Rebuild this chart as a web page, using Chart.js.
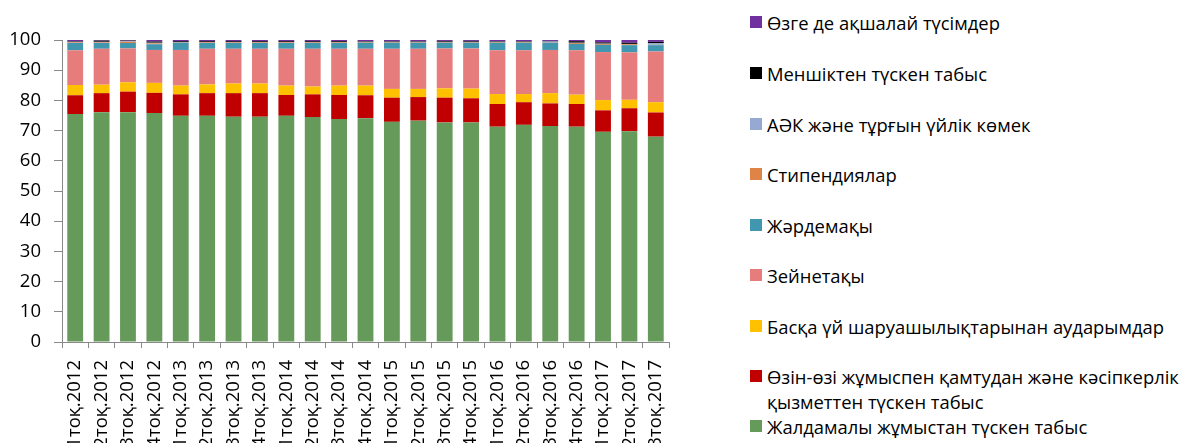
<!DOCTYPE html>
<html>
<head>
<meta charset="utf-8">
<script src="https://cdn.jsdelivr.net/npm/chart.js@4/dist/chart.umd.min.js"></script>
<style>
    html, body { margin: 0; padding: 0; background: #fff; overflow: hidden; }
    body { width: 1190px; height: 443px; position: relative; font-family: "Open Sans", sans-serif; }
    #wrap { position: absolute; left: 0; top: 0; width: 700px; height: 443px; }
    #legend { position: absolute; left: 750px; top: 0; width: 440px; height: 443px; }
    .item { position: absolute; left: 0; display: flex; align-items: flex-start; font-size: 18.4px; line-height: 25px; color: #000; white-space: nowrap; }
    .sw { width: 12px; height: 12px; margin-top: 6px; margin-right: 5px; flex: none; }
</style>
</head>
<body>
<div id="wrap"><canvas id="incomeChart" width="700" height="443"></canvas></div>
<div id="legend"></div>
<script>
const quarters = [
    '1тоқ.2012', '2тоқ.2012', '3тоқ.2012', '4тоқ.2012',
    '1тоқ.2013', '2тоқ.2013', '3тоқ.2013', '4тоқ.2013',
    '1тоқ.2014', '2тоқ.2014', '3тоқ.2014', '4тоқ.2014',
    '1тоқ.2015', '2тоқ.2015', '3тоқ.2015', '4тоқ.2015',
    '1тоқ.2016', '2тоқ.2016', '3тоқ.2016', '4тоқ.2016',
    '1тоқ.2017', '2тоқ.2017', '3тоқ.2017',
];

const wages = [75.5, 76.1, 76.1, 75.8, 74.9, 74.9, 74.6, 74.6, 74.9, 74.5, 73.8, 74.1, 72.9, 73.3, 72.7, 72.7, 71.3, 71.9, 71.5, 71.3, 69.6, 69.8, 68.0];
const selfEmployed = [6.2, 6.3, 6.8, 6.7, 7.1, 7.5, 7.8, 7.8, 6.9, 7.5, 8.0, 7.6, 8.0, 7.8, 8.2, 8.0, 7.5, 7.5, 7.5, 7.5, 7.1, 7.6, 8.0];
const transfers = [3.4, 2.8, 3.1, 3.3, 2.9, 2.9, 3.2, 3.2, 3.1, 2.6, 3.1, 3.2, 2.9, 2.7, 3.1, 3.2, 3.3, 2.7, 3.4, 3.1, 3.4, 2.8, 3.4];
const pensions = [11.5, 11.9, 11.2, 10.9, 11.8, 11.8, 11.5, 11.5, 12.2, 12.5, 12.2, 12.2, 13.3, 13.3, 13.2, 13.3, 14.5, 14.5, 14.3, 14.7, 15.9, 15.7, 16.8];
const allowances = [2.4, 1.9, 1.8, 1.9, 2.4, 1.9, 1.9, 1.9, 1.9, 1.9, 1.9, 2.0, 2.0, 2.0, 1.9, 1.9, 2.5, 2.5, 2.4, 2.1, 2.4, 2.4, 2.1];
const stipends = [0.2, 0.2, 0.4, 0.3, 0.1, 0.2, 0.2, 0.2, 0.2, 0.2, 0.2, 0.2, 0.2, 0.2, 0.2, 0.2, 0.2, 0.2, 0.1, 0.3, 0.3, 0.3, 0.1];
const socialAid = [0.2, 0.2, 0.2, 0.2, 0.1, 0.1, 0.1, 0.1, 0.1, 0.1, 0.1, 0.1, 0.1, 0.1, 0.1, 0.1, 0.1, 0.1, 0.3, 0.1, 0.1, 0.1, 0.6];
const property = [0.2, 0.4, 0.2, 0.4, 0.3, 0.3, 0.3, 0.3, 0.3, 0.3, 0.3, 0.2, 0.2, 0.2, 0.3, 0.3, 0.2, 0.2, 0.2, 0.5, 0.4, 0.4, 0.4];
const otherCash = [0.4, 0.2, 0.2, 0.5, 0.4, 0.4, 0.4, 0.4, 0.4, 0.4, 0.4, 0.4, 0.4, 0.4, 0.3, 0.3, 0.4, 0.4, 0.3, 0.4, 0.8, 0.9, 0.6];

const yTicks = [0, 10, 20, 30, 40, 50, 60, 70, 80, 90, 100];

// bottom of the stack first
const series = [
    { label: 'Жалдамалы жұмыстан түскен табыс', data: wages, color: '#669a5a' },
    { label: 'Өзін-өзі жұмыспен қамтудан және кәсіпкерлік\nқызметтен түскен табыс', data: selfEmployed, color: '#c00000' },
    { label: 'Басқа үй шаруашылықтарынан аударымдар', data: transfers, color: '#ffc000' },
    { label: 'Зейнетақы', data: pensions, color: '#e67c7b' },
    { label: 'Жәрдемақы', data: allowances, color: '#4297b0' },
    { label: 'Стипендиялар', data: stipends, color: '#dd8446' },
    { label: 'АӘК және тұрғын үйлік көмек', data: socialAid, color: '#95a9d3' },
    { label: 'Меншіктен түскен табыс', data: property, color: '#000000' },
    { label: 'Өзге де ақшалай түсімдер', data: otherCash, color: '#7030a0' },
];

const axisColor = '#898989';
const tickFont = { family: '"Open Sans", sans-serif', size: 18.5 };

new Chart(document.getElementById('incomeChart'), {
    type: 'bar',
    data: {
        labels: quarters,
        datasets: series.map(s => ({
            label: s.label,
            data: s.data,
            backgroundColor: s.color,
            borderWidth: 0,
            barPercentage: 0.6,
            categoryPercentage: 1,
        })),
    },
    options: {
        responsive: false,
        animation: false,
        layout: { padding: { top: 40, right: 31, left: 0, bottom: 0 } },
        plugins: { legend: { display: false }, tooltip: { enabled: false } },
        scales: {
            x: {
                stacked: true,
                grid: { drawOnChartArea: false, offset: true, color: axisColor, tickLength: 6 },
                border: { color: axisColor, width: 1 },
                ticks: { color: '#000', font: tickFont, minRotation: 90, maxRotation: 90, autoSkip: false, padding: 12 },
                afterFit: s => { s.height = 101; },
            },
            y: {
                stacked: true,
                min: 0,
                max: 100,
                afterBuildTicks: s => { s.ticks = yTicks.map(v => ({ value: v })); },
                grid: { drawOnChartArea: false, color: axisColor, tickLength: 8 },
                border: { color: axisColor, width: 1 },
                ticks: { color: '#000', font: tickFont, padding: 13 },
                afterFit: s => { s.width = 62; },
            },
        },
    },
});

// legend, top to bottom is the reverse of the stack
const legendTops = [10, 61, 112, 162, 213, 263, 314, 364, 414];
const legendEl = document.getElementById('legend');
series.slice().reverse().forEach((s, i) => {
    const item = document.createElement('div');
    item.className = 'item';
    item.style.top = legendTops[i] + 'px';
    const sw = document.createElement('span');
    sw.className = 'sw';
    sw.style.background = s.color;
    const txt = document.createElement('span');
    txt.innerHTML = s.label.split('\n').join('<br>');
    item.appendChild(sw);
    item.appendChild(txt);
    legendEl.appendChild(item);
});
</script>
</body>
</html>
